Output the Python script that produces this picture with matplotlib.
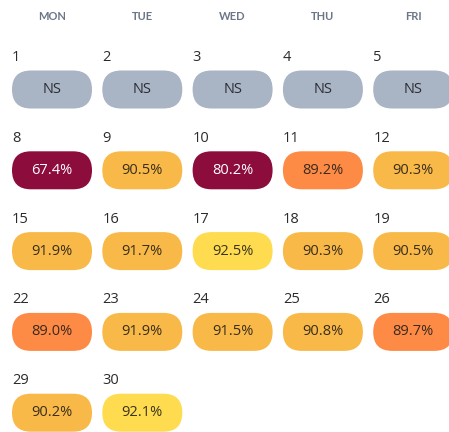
import matplotlib.pyplot as plt
from matplotlib.patches import FancyBboxPatch

# --- Données ---
weekdays = ["MON", "TUE", "WED", "THU", "FRI"]
days = [1, 2, 3, 4, 5,
        8, 9, 10, 11, 12,
        15, 16, 17, 18, 19,
        22, 23, 24, 25, 26,
        29, 30]
values = [None, None, None, None, None,
          67.4, 90.5, 80.2, 89.2, 90.3,
          91.9, 91.7, 92.5, 90.3, 90.5,
          89.0, 91.9, 91.5, 90.8, 89.7,
          90.2, 92.1]


def pill_color(v):
    # couleur selon le taux
    if v is None:
        return "#a9b4c4", "#2b2f36"
    if v < 85:
        return "#8c0c3c", "white"
    if v < 90:
        return "#fd8a45", "#3a2a20"
    if v < 92:
        return "#f8b948", "#3a2e1c"
    return "#fedb4f", "#3a341c"


plt.rcParams['font.family'] = ['Open Sans', 'DejaVu Sans']

fig = plt.figure(figsize=(4.49, 4.32), dpi=100)
ax = fig.add_axes([0, 0, 1, 1])
ax.set_xlim(0, 449)
ax.set_ylim(432, 0)
ax.axis("off")

x0, dx = 52, 90.3
y0, dy = 89.5, 80.8
w, h = 80, 38

for i, name in enumerate(weekdays):
    ax.text(x0 + i * dx, 17, name, ha="center", va="center", fontsize=8,
            fontweight="bold", color="#6c7686", family=["Lato", "DejaVu Sans"])

for k, (d, v) in enumerate(zip(days, values)):
    col, row = k % 5, k // 5
    cx = x0 + col * dx
    cy = y0 + row * dy
    fc, tc = pill_color(v)
    r = h / 2
    box = FancyBboxPatch((cx - w / 2 + r, cy - h / 2 + r), w - 2 * r, h - 2 * r,
                         boxstyle=f"round,pad={r},rounding_size={r}",
                         facecolor=fc, edgecolor="none")
    ax.add_patch(box)
    label = "NS" if v is None else f"{v:.1f}%"
    ax.text(cx, cy, label, ha="center", va="center", fontsize=10.5,
            color=tc)
    ax.text(cx - w / 2, cy - h / 2 - 13, str(d), ha="left", va="center",
            fontsize=10.5, color="#2b2b2b")

fig.savefig("out.png", dpi=100)
